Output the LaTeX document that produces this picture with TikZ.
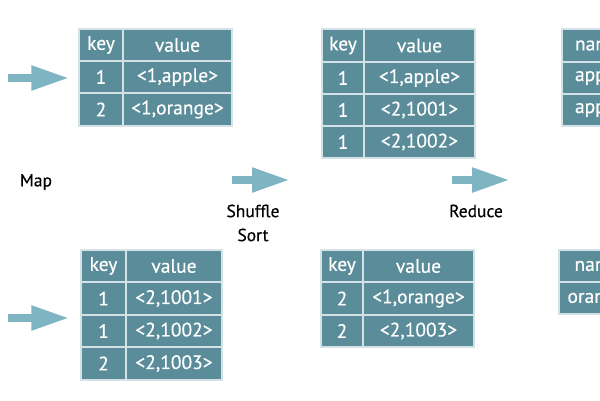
\documentclass[tikz,border=0pt]{standalone}
\usepackage{fontspec}
\setmainfont{PT Sans}
\newfontfamily\cellfont{PT Sans}[FakeBold=0.4]
\usetikzlibrary{arrows.meta}
\definecolor{tealfill}{HTML}{5A8D99}
\definecolor{cellline}{HTML}{D3E2E6}
\definecolor{arrowc}{HTML}{7FB5C2}
\tikzset{
  cell/.style={draw=cellline, fill=tealfill, line width=1.3pt, text=white, inner sep=0pt,
    font=\cellfont\fontsize{19.5}{22}\selectfont},
  bigarrow/.style={draw=arrowc, line width=8pt, -{Triangle[length=38pt,width=23pt]}},
  lbl/.style={font=\cellfont\fontsize{17.5}{24}\selectfont, text=black, align=center, inner sep=0pt}
}
% \mycell[opts]{name}{x1}{y1}{x2}{y2}{text}  (pixel coords, y down)
\newcommand{\mycell}[7][]{%
  \node[cell,#1, minimum width={(#5-#3)*1pt}, minimum height={(#6-#4)*1pt}]
    (#2) at ({(#3+#5)/2},{400-(#4+#6)/2}) {#7};}
\begin{document}
\begin{tikzpicture}[x=1pt,y=1pt]
\useasboundingbox (0,0) rectangle (600,400);
\clip (0,0) rectangle (600,400);
\fill[white] (0,0) rectangle (600,400);

% table 1 (map output top)
\mycell{t1hk}{79}{29}{123}{61}{key}
\mycell{t1hv}{123}{29}{232}{61}{value}
\mycell{t1k1}{79}{61}{123}{93}{1}
\mycell{t1v1}{123}{61}{232}{93}{<1,apple>}
\mycell{t1k2}{79}{93}{123}{126}{2}
\mycell{t1v2}{123}{93}{232}{126}{<1,orange>}

% table 4 (map output bottom)
\mycell{t4hk}{81}{250}{126}{282}{key}
\mycell{t4hv}{126}{250}{222}{282}{value}
\mycell{t4k1}{81}{282}{126}{315}{1}
\mycell{t4v1}{126}{282}{222}{315}{<2,1001>}
\mycell{t4k2}{81}{315}{126}{347}{1}
\mycell{t4v2}{126}{315}{222}{347}{<2,1002>}
\mycell{t4k3}{81}{347}{126}{380}{2}
\mycell{t4v3}{126}{347}{222}{380}{<2,1003>}

% table 2 (shuffle top)
\mycell{t2hk}{322}{29}{364}{62}{key}
\mycell{t2hv}{364}{29}{475}{62}{value}
\mycell{t2k1}{322}{62}{364}{94}{1}
\mycell{t2v1}{364}{62}{475}{94}{<1,apple>}
\mycell{t2k2}{322}{94}{364}{126}{1}
\mycell{t2v2}{364}{94}{475}{126}{<2,1001>}
\mycell{t2k3}{322}{126}{364}{158}{1}
\mycell{t2v3}{364}{126}{475}{158}{<2,1002>}

% table 5 (shuffle bottom)
\mycell{t5hk}{321}{250}{363}{282}{key}
\mycell{t5hv}{363}{250}{474}{282}{value}
\mycell{t5k1}{321}{282}{363}{315}{2}
\mycell{t5v1}{363}{282}{474}{315}{<1,orange>}
\mycell{t5k2}{321}{315}{363}{347}{2}
\mycell{t5v2}{363}{315}{474}{347}{<2,1003>}

% table 3 (reduce top, clipped at the edge)
\mycell[text width=70pt, align=left]{t3h}{562}{29}{640}{62}{\hspace*{9pt}nam}
\mycell[text width=70pt, align=left]{t3r1}{562}{62}{640}{94}{\hspace*{9pt}app}
\mycell[text width=70pt, align=left]{t3r2}{562}{94}{640}{126}{\hspace*{9pt}app}

% table 6 (reduce bottom, clipped at the edge)
\mycell[text width=70pt, align=left]{t6h}{559}{250}{640}{282}{\hspace*{10pt}nam}
\mycell[text width=70pt, align=left]{t6r1}{559}{282}{640}{314}{\hspace*{3pt}oran}

% labels
\node[lbl] (map) at (36,218) {Map};
\node[lbl] (shuffle) at (253,177) {Shuffle\\Sort};
\node[lbl] (reduce) at (476,189) {Reduce};

% arrows
\coordinate (a1s) at (8,322);
\coordinate (a2s) at (8,82);
\draw[bigarrow] (a1s) -- ([xshift=-9pt]t1k1.west |- a1s);
\draw[bigarrow] (a2s) -- ([xshift=-11pt]t4k2.west |- a2s);
\coordinate (s1) at (232,220);
\coordinate (s2) at (290,220);
\draw[bigarrow] (s1) -- (s2);
\coordinate (r1) at (452,220);
\coordinate (r2) at (510,220);
\draw[bigarrow] (r1) -- (r2);
\end{tikzpicture}
\end{document}
